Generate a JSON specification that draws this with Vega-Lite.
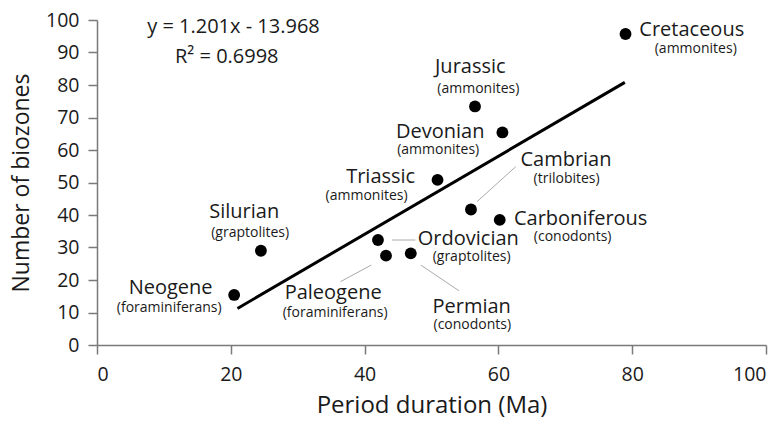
{
  "$schema": "https://vega.github.io/schema/vega-lite/v6.json",
  "width": 669,
  "height": 325,
  "autosize": "none",
  "padding": {"left": 97, "top": 20, "right": 18, "bottom": 79},
  "background": "white",
  "config": {"view": {"stroke": null}, "font": "Open Sans"},
  "datasets": {
    "periods": [
      {"period": "Cretaceous", "fossil": "(ammonites)", "dur": 79.0, "zones": 95.7, "nx": 88.9, "ny": 96.9, "sx": 89.5, "sy": 91.1},
      {"period": "Jurassic", "fossil": "(ammonites)", "dur": 56.5, "zones": 73.4, "nx": 55.8, "ny": 85.5, "sx": 57.0, "sy": 78.8},
      {"period": "Devonian", "fossil": "(ammonites)", "dur": 60.6, "zones": 65.4, "nx": 51.3, "ny": 65.5, "sx": 51.0, "sy": 60.0},
      {"period": "Triassic", "fossil": "(ammonites)", "dur": 50.9, "zones": 50.8, "nx": 42.4, "ny": 51.6, "sx": 40.3, "sy": 46.0},
      {"period": "Cambrian", "fossil": "(trilobites)", "dur": 55.9, "zones": 41.7, "nx": 70.1, "ny": 56.9, "sx": 70.2, "sy": 51.1},
      {"period": "Carboniferous", "fossil": "(conodonts)", "dur": 60.2, "zones": 38.5, "nx": 72.3, "ny": 38.9, "sx": 71.1, "sy": 33.3},
      {"period": "Silurian", "fossil": "(graptolites)", "dur": 24.5, "zones": 29.0, "nx": 22.0, "ny": 40.9, "sx": 22.9, "sy": 34.5},
      {"period": "Neogene", "fossil": "(foraminiferans)", "dur": 20.5, "zones": 15.4, "nx": 11.0, "ny": 17.6, "sx": 10.8, "sy": 11.5},
      {"period": "Ordovician", "fossil": "(graptolites)", "dur": 42.0, "zones": 32.3, "nx": 55.5, "ny": 32.7, "sx": 56.0, "sy": 27.2},
      {"period": "Paleogene", "fossil": "(foraminiferans)", "dur": 43.2, "zones": 27.5, "nx": 35.3, "ny": 15.9, "sx": 35.6, "sy": 9.8},
      {"period": "Permian", "fossil": "(conodonts)", "dur": 46.9, "zones": 28.2, "nx": 56.0, "ny": 11.8, "sx": 56.1, "sy": 6.1}
    ],
    "fit": [{"x": 21.0, "y": 11.25, "x2": 78.9, "y2": 80.8}],
    "leaders": [
      {"x": 62.6, "y": 54.9, "x2": 56.8, "y2": 44.1},
      {"x": 44.1, "y": 32.3, "x2": 47.6, "y2": 32.3},
      {"x": 36.4, "y": 19.5, "x2": 41.0, "y2": 24.6},
      {"x": 48.4, "y": 24.6, "x2": 54.1, "y2": 16.7}
    ],
    "notes": [
      {"t": "y = 1.201x - 13.968", "x": 20.4, "y": 97.8},
      {"t": "R² = 0.6998", "x": 19.4, "y": 88.7}
    ]
  },
  "layer": [
    {
      "data": {"name": "leaders"},
      "mark": {"type": "rule", "color": "#aaaaaa", "strokeWidth": 1},
      "encoding": {
        "x": {"field": "x", "type": "quantitative", "scale": {"domain": [0, 100], "nice": false},
          "axis": {"tickCount": 5, "title": "Period duration (Ma)", "grid": false, "labelOverlap": false,
            "domainColor": "#7a7a7a", "domainWidth": 1.5, "tickColor": "#7a7a7a", "tickWidth": 1.5, "tickSize": 9,
            "labelFontSize": 19.5, "labelColor": "#1a1a1a", "labelPadding": 11, "labelFont": "Open Sans",
            "titleFontSize": 24, "titleFontWeight": "normal", "titleColor": "#1a1a1a", "titlePadding": 10, "titleFont": "Open Sans"}},
        "y": {"field": "y", "type": "quantitative", "scale": {"domain": [0, 100], "nice": false},
          "axis": {"tickCount": 10, "title": "Number of biozones", "grid": false, "labelOverlap": false,
            "domainColor": "#7a7a7a", "domainWidth": 1.5, "tickColor": "#7a7a7a", "tickWidth": 1.5, "tickSize": 9,
            "labelFontSize": 19.5, "labelColor": "#1a1a1a", "labelPadding": 9, "labelFont": "Open Sans",
            "titleFontSize": 23, "titleFontWeight": "normal", "titleColor": "#1a1a1a", "titlePadding": 12, "titleFont": "Open Sans"}},
        "x2": {"field": "x2"},
        "y2": {"field": "y2"}
      }
    },
    {
      "data": {"name": "fit"},
      "mark": {"type": "rule", "color": "#000000", "strokeWidth": 3},
      "encoding": {
        "x": {"field": "x", "type": "quantitative"},
        "y": {"field": "y", "type": "quantitative"},
        "x2": {"field": "x2"},
        "y2": {"field": "y2"}
      }
    },
    {
      "data": {"name": "periods"},
      "mark": {"type": "circle", "color": "#000000", "opacity": 1, "size": 140},
      "encoding": {
        "x": {"field": "dur", "type": "quantitative"},
        "y": {"field": "zones", "type": "quantitative"}
      }
    },
    {
      "data": {"name": "periods"},
      "mark": {"type": "text", "fontSize": 20, "color": "#1a1a1a", "align": "center", "baseline": "middle", "font": "Open Sans"},
      "encoding": {
        "x": {"field": "nx", "type": "quantitative"},
        "y": {"field": "ny", "type": "quantitative"},
        "text": {"field": "period"}
      }
    },
    {
      "data": {"name": "periods"},
      "mark": {"type": "text", "fontSize": 14, "color": "#1a1a1a", "align": "center", "baseline": "middle", "font": "Open Sans"},
      "encoding": {
        "x": {"field": "sx", "type": "quantitative"},
        "y": {"field": "sy", "type": "quantitative"},
        "text": {"field": "fossil"}
      }
    },
    {
      "data": {"name": "notes"},
      "mark": {"type": "text", "fontSize": 20, "color": "#1a1a1a", "align": "center", "baseline": "middle", "font": "Open Sans"},
      "encoding": {
        "x": {"field": "x", "type": "quantitative"},
        "y": {"field": "y", "type": "quantitative"},
        "text": {"field": "t"}
      }
    }
  ]
}
